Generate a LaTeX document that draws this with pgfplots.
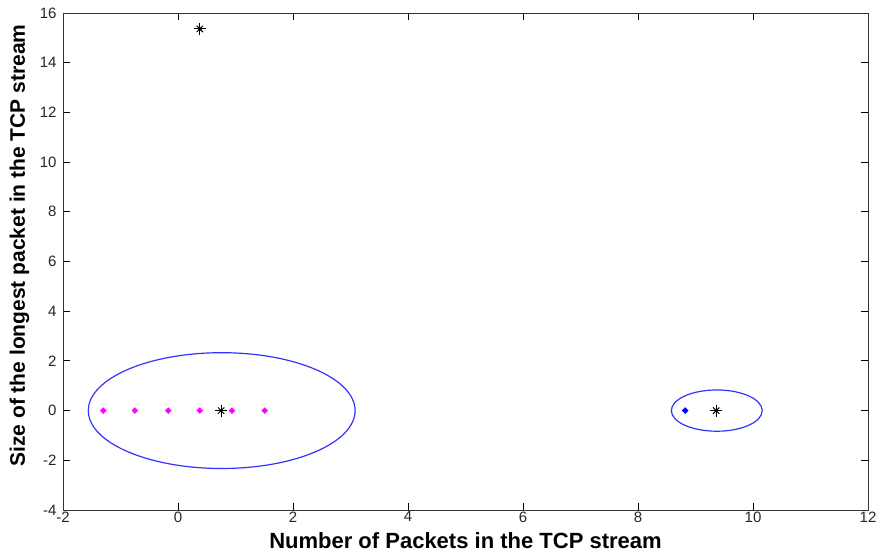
\documentclass[border=0pt]{standalone}
\usepackage{pgfplots}
\pgfplotsset{compat=1.18}
\usepackage{fontspec}
\setmainfont{Liberation Sans}
\begin{document}
\begin{tikzpicture}
\begin{axis}[name=ax, scale only axis, width=805pt, height=497pt,
  xmin=-2, xmax=12, ymin=-4, ymax=16,
  xtick={-2,0,...,12}, ytick={-4,-2,...,16},
  tick align=inside, major tick length=7pt,
  tick style={black, line width=0.8pt},
  axis line style={line width=0.8pt, black!80},
  tick label style={font=\fontsize{15}{17}\selectfont, text=black!85},
  /pgf/number format/assume math mode=true,
  xticklabel style={yshift=2pt},
  yticklabel style={xshift=-3pt},
  xlabel={Number of Packets in the TCP stream},
  ylabel={Size of the longest packet in the TCP stream},
  x label style={font=\fontsize{22}{25}\selectfont\bfseries, at={(axis description cs:0.5,0)}, anchor=base, yshift=-39pt},
  y label style={font=\fontsize{21}{24}\selectfont\bfseries, at={(axis description cs:0,0.5)}, anchor=base, yshift=38pt, xshift=16pt},
]
% cluster 1 members (magenta)
\addplot[only marks, mark=square*, mark size=2.1pt, mark options={rotate=45}, color={rgb,255:red,255;green,0;blue,255}]
  coordinates {(-1.30,0) (-0.75,0) (-0.17,0) (0.38,0) (0.94,0) (1.51,0)};
% cluster 2 member (blue)
\addplot[only marks, mark=square*, mark size=2.1pt, mark options={rotate=45}, color=blue]
  coordinates {(8.82,0)};
% outlier point (blue centre)
\addplot[only marks, mark=*, mark size=1.8pt, color=blue!70!black]
  coordinates {(0.38,15.36)};
% centroids (black stars = plus + cross)
\addplot[only marks, mark=+, mark size=6pt, line width=1pt, color=black]
  coordinates {(0.75,0) (9.36,0) (0.38,15.36)};
\addplot[only marks, mark=x, mark size=4.5pt, line width=1pt, color=black]
  coordinates {(0.75,0) (9.36,0) (0.38,15.36)};
% cluster boundaries
\draw[blue!80, line width=1.2pt] (axis cs:0.76,0) ellipse [x radius=2.32, y radius=2.33];
\draw[blue!80, line width=1.2pt] (axis cs:9.37,0) ellipse [x radius=0.79, y radius=0.83];
\end{axis}
\path[use as bounding box] ([shift={(-63pt,-46pt)}]ax.south west) rectangle ([shift={(13pt,13pt)}]ax.north east);
\end{tikzpicture}
\end{document}
